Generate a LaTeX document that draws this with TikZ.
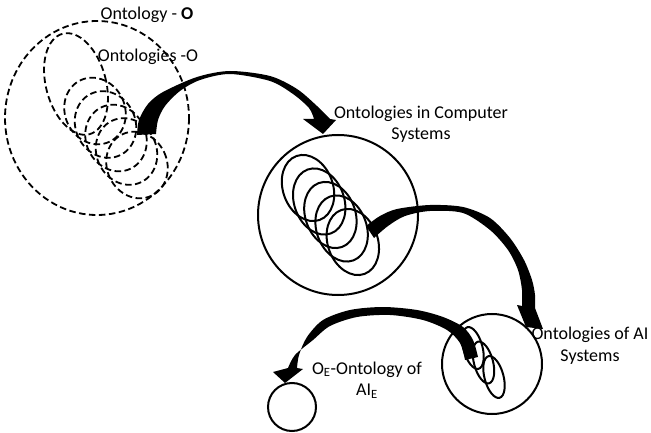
\documentclass[tikz,border=0pt]{standalone}
\usepackage{fontspec}
\setmainfont{Carlito}
\begin{document}
\begin{tikzpicture}[x=1bp,y=-1bp,
  dline/.style={line width=1.8bp, dash pattern=on 6.5bp off 3.5bp},
  sline/.style={line width=2bp},
  bigarrow/.style={fill=black},
  lbl/.style={font=\fontsize{18bp}{21.5bp}\selectfont, align=center, inner sep=0pt}]
\useasboundingbox (0,0) rectangle (651,433);

% ---- group 1 : dashed
\coordinate (g1) at (97,118);
\draw[dline] (g1) ellipse [x radius=92, y radius=97];
\coordinate (d0) at (76,84);
\draw[dline, rotate around={15:(d0)}] (d0) ellipse [x radius=30, y radius=52];
\foreach \i in {0,...,4}{
  \coordinate (d\i x) at ({95+10.5*\i},{111+13.5*\i});
  \draw[dline, rotate around={25:(d\i x)}] (d\i x) ellipse [x radius=30, y radius=34];
}

% ---- group 2 : solid
\coordinate (g2) at (338,215);
\draw[sline] (g2) circle [radius=80];
\foreach \i in {0,...,4}{
  \coordinate (s\i) at ({308+11.2*\i},{188+13.5*\i});
  \draw[sline, rotate around={20:(s\i)}] (s\i) ellipse [x radius=25, y radius=34];
}

% ---- group 3
\coordinate (g3) at (492,364);
\draw[sline] (g3) circle [radius=50];
\foreach \i in {0,...,2}{
  \coordinate (t\i) at ({473+10.5*\i},{348+14.5*\i});
  \draw[sline, rotate around={15:(t\i)}] (t\i) ellipse [x radius=9.5, y radius=21.5];
}

% ---- group 4
\coordinate (g4) at (292,407);
\draw[sline] (g4) circle [radius=24];

% ---- labels
\node[lbl] (tO) at (147,15) {Ontology - \textbf{O}};
\node[lbl] (tOs) at (148,57) {Ontologies -O};
\node[lbl] (tCS) at (421,124) {Ontologies in Computer\\Systems};
\node[lbl] (tAI) at (590,345.5) {Ontologies of AI\\Systems};
\node[lbl] (tE) at (367,380) {O\textsubscript{E}-Ontology of\\AI\textsubscript{E}};

% ---- arrows
\fill[bigarrow] plot[smooth] coordinates {(137,135) (139,120) (148,104) (163,92) (197,77) (230,71) (270,76) (297,89) (317,106) (330,119)}
  -- (336,120) -- (323,134) -- (303,119)
  -- plot[smooth] coordinates {(314,119) (309,108) (293,94) (270,81) (230,74) (200,80) (180,91) (165,106) (158,120) (156,134)} -- cycle;

\fill[bigarrow] plot[smooth] coordinates {(366,226) (380,216) (397,209) (430,205) (463,207) (490,218) (510,238) (524,260) (532,280) (535,295) (535,308)}
  -- (543,329) -- (526,327) -- (517,305)
  -- plot[smooth] coordinates {(522,306) (522,290) (518,270) (508,250) (490,230) (463,213) (430,211) (405,216) (388,226) (374,238)} -- cycle;

\fill[bigarrow] plot[smooth] coordinates {(478,357) (473,340) (463,327) (443,317) (417,310) (383,307) (350,310) (323,320) (307,337) (299,355) (297,368)}
  -- (303,369) -- (285,383) -- (273,372)
  -- plot[smooth] coordinates {(288,368) (295,355) (313,340) (330,326) (357,317) (390,315) (423,320) (447,330) (460,343) (465,360)} -- cycle;
\end{tikzpicture}
\end{document}
